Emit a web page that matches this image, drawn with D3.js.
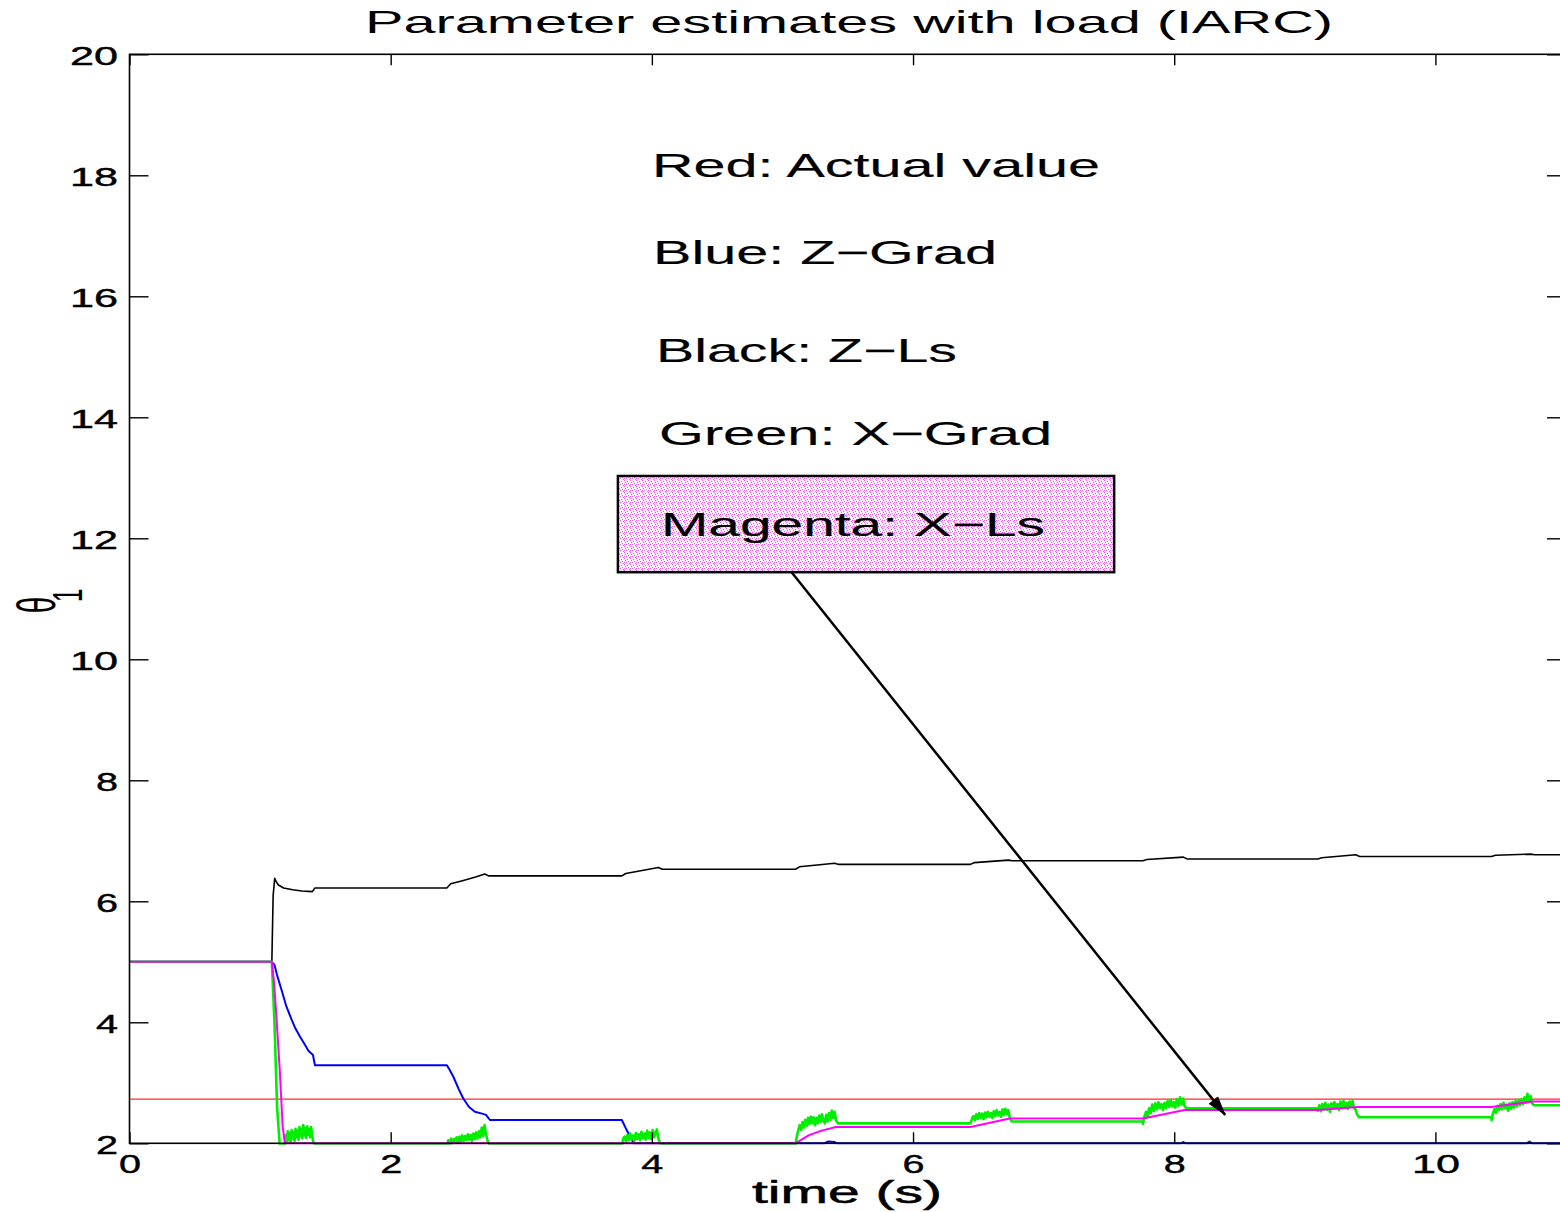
<!DOCTYPE html>
<html>
<head>
<meta charset="utf-8">
<script src="https://cdn.jsdelivr.net/npm/d3@7"></script>
<style>
  body { margin: 0; background: #fff; }
  svg { display: block; font-family: "Liberation Sans", Arial, Helvetica, sans-serif; }
</style>
</head>
<body>
<svg id="chart" width="1560" height="1212"></svg>
<script>
// ---- tick values ----
const xTicks = [0, 2, 4, 6, 8, 10];
const yTicks = [2, 4, 6, 8, 10, 12, 14, 16, 18, 20];

// ---- Red: actual parameter value ----
const actualT = [0, 11];
const actualV = [2.73, 2.73];

// ---- Black: Z-Ls estimate ----
const zlsT = [0, 1.09, 1.10, 1.112, 1.122, 1.14, 1.18, 1.25, 1.32, 1.40, 1.42,
  2.43, 2.46, 2.55, 2.65, 2.72, 2.75, 3.77, 3.80, 4.05, 4.08, 5.10, 5.13, 5.40, 5.43,
  6.44, 6.47, 6.73, 6.76, 7.76, 7.79, 8.07, 8.10, 9.10, 9.13, 9.39, 9.42,
  10.43, 10.46, 10.73, 10.76, 11];
const zlsV = [5, 5, 6.10, 6.38, 6.33, 6.27, 6.22, 6.19, 6.17, 6.16, 6.22,
  6.22, 6.29, 6.34, 6.40, 6.45, 6.42, 6.42, 6.46, 6.56, 6.53, 6.53, 6.57, 6.63, 6.61,
  6.61, 6.64, 6.68, 6.67, 6.67, 6.69, 6.73, 6.70, 6.70, 6.72, 6.77, 6.74,
  6.74, 6.76, 6.78, 6.77, 6.77];

// ---- Blue: Z-Grad estimate ----
const zgradT = [0, 1.09, 1.11, 1.13, 1.165, 1.20, 1.242, 1.27, 1.306, 1.34, 1.37, 1.405, 1.42,
  2.43, 2.45, 2.48, 2.52, 2.556, 2.60, 2.645, 2.70, 2.73, 2.76, 3.77, 3.80, 3.86,
  5.32, 5.35, 5.40, 5.42, 8.05, 8.07, 8.09, 10.70, 10.72, 10.74, 11];
const zgradV = [5, 5, 4.95, 4.78, 4.53, 4.27, 4.04, 3.90, 3.76, 3.64, 3.53, 3.46, 3.29,
  3.29, 3.22, 3.10, 2.90, 2.74, 2.60, 2.52, 2.49, 2.47, 2.385, 2.385, 2.25, 2.0,
  2.0, 2.03, 2.02, 2.0, 2.0, 2.02, 2.0, 2.0, 2.03, 2.0, 2.0];

// ---- Magenta: X-Ls estimate ----
const xlsT = [0, 1.09, 1.105, 1.12, 1.135, 1.152, 1.173, 1.19, 5.10, 5.20, 5.30, 5.41,
  6.44, 6.74, 7.76, 8.08, 9.10, 9.40, 10.43, 10.74, 11];
const xlsV = [5, 5, 4.70, 4.26, 3.75, 3.16, 2.27, 2.0, 2.0, 2.13, 2.21, 2.27,
  2.27, 2.41, 2.41, 2.55, 2.55, 2.60, 2.60, 2.69, 2.69];

// ---- Green: X-Grad estimate (initial drop, then adaptation bursts and hold levels) ----
const xgradStartT = [0, 1.09, 1.11, 1.13, 1.15];
const xgradStartV = [5, 5, 4.0, 2.6, 1.98];
const burstStart = [1.19, 2.43, 3.77, 5.10, 6.44, 7.76, 9.10, 10.43];
const burstEnd   = [1.405, 2.74, 4.06, 5.41, 6.74, 8.08, 9.40, 10.74];
const holdLevel  = [1.98, 1.98, 1.98, 2.33, 2.36, 2.58, 2.43, 2.63];
const burstValues = [
  [1.98, 2.14, 2.03, 2.20, 2.05, 2.17, 2.01, 2.22, 2.08, 2.18, 2.04, 2.24, 2.10, 2.21, 2.06,
   2.27, 2.12, 2.23, 2.08, 2.30, 2.13, 2.25, 2.09, 2.28, 2.14, 2.24, 2.10, 2.27, 2.16, 2.04],
  [1.97, 2.05, 1.99, 2.08, 2.00, 2.07, 2.01, 2.10, 2.02, 2.11, 2.03, 2.13, 2.04, 2.12, 2.05,
   2.15, 2.06, 2.14, 2.04, 2.16, 2.07, 2.18, 2.08, 2.20, 2.10, 2.26, 2.12, 2.30, 2.15, 2.06],
  [1.97, 2.08, 2.11, 2.02, 2.14, 2.05, 2.16, 2.06, 2.13, 2.04, 2.17, 2.07, 2.15, 2.05,
   2.19, 2.08, 2.16, 2.06, 2.21, 2.09, 2.18, 2.07, 2.22, 2.10, 2.17, 2.23, 2.08, 2.02],
  [1.98, 2.12, 2.22, 2.30, 2.22, 2.35, 2.26, 2.39, 2.29, 2.42, 2.32, 2.44, 2.33, 2.43, 2.30,
   2.42, 2.33, 2.46, 2.35, 2.48, 2.37, 2.33, 2.47, 2.36, 2.50, 2.39, 2.54, 2.42, 2.52, 2.38],
  [2.33, 2.40, 2.45, 2.38, 2.48, 2.40, 2.50, 2.42, 2.49, 2.40, 2.51, 2.43, 2.52, 2.44,
   2.50, 2.42, 2.53, 2.45, 2.55, 2.46, 2.52, 2.44, 2.56, 2.47, 2.57, 2.48, 2.55, 2.43],
  [2.32, 2.44, 2.52, 2.44, 2.58, 2.50, 2.64, 2.53, 2.66, 2.56, 2.68, 2.58, 2.65, 2.55,
   2.67, 2.58, 2.70, 2.60, 2.72, 2.61, 2.68, 2.59, 2.73, 2.62, 2.76, 2.64, 2.74, 2.61],
  [2.54, 2.63, 2.53, 2.65, 2.56, 2.67, 2.55, 2.64, 2.52, 2.66, 2.57, 2.68, 2.58, 2.65,
   2.55, 2.69, 2.59, 2.70, 2.60, 2.67, 2.57, 2.69, 2.61, 2.70, 2.58, 2.56, 2.48],
  [2.38, 2.50, 2.57, 2.50, 2.62, 2.55, 2.65, 2.56, 2.67, 2.58, 2.64, 2.54, 2.66, 2.57,
   2.68, 2.59, 2.70, 2.61, 2.72, 2.63, 2.73, 2.65, 2.76, 2.67, 2.82, 2.70, 2.78, 2.66]
];

// ---- text ----
const titleText = "Parameter estimates with load (IARC)";
const xLabelText = "time (s)";
const legendLabels = ["Red: Actual value", "Blue: Z\u2212Grad", "Black: Z\u2212Ls",
  "Green: X\u2212Grad", "Magenta: X\u2212Ls"];

// ---- scales ----
const svg = d3.select("#chart");
const x = d3.scaleLinear().domain([0, 11]).range([129.5, 1566]);
const y = d3.scaleLinear().domain([2, 20]).range([1143.3, 54.3]);

const defs = svg.append("defs");
defs.append("clipPath").attr("id", "plotClip")
  .append("rect")
  .attr("x", x(0)).attr("y", y(20))
  .attr("width", x(11) - x(0)).attr("height", y(2) - y(20) + 1.5);

// speckled pink fill for the callout box
const pat = defs.append("pattern").attr("id", "speckle")
  .attr("patternUnits", "userSpaceOnUse").attr("width", 6).attr("height", 6);
pat.append("rect").attr("width", 6).attr("height", 6).attr("fill", "#fdf0fd");
[[0,0],[3,1],[1,2],[4,3],[2,4],[5,5],[0,4]].forEach(([px, py]) =>
  pat.append("rect").attr("x", px).attr("y", py).attr("width", 1).attr("height", 1)
    .attr("fill", "#ee55ee"));

// arrow head
defs.append("marker").attr("id", "arrowHead")
  .attr("markerUnits", "userSpaceOnUse")
  .attr("viewBox", "0 -7 20 14")
  .attr("refX", 19).attr("refY", 0)
  .attr("markerWidth", 20).attr("markerHeight", 14)
  .attr("orient", "auto")
  .append("path").attr("d", "M0,-6L20,0L0,6Z").attr("fill", "#000");

// ---- build green series ----
const xgrad = d3.zip(xgradStartT, xgradStartV);
burstValues.forEach((vals, i) => {
  const n = vals.length;
  vals.forEach((v, j) => {
    const t = burstStart[i] + (burstEnd[i] - burstStart[i]) * j / (n - 1);
    xgrad.push([t, v]);
  });
  xgrad.push([burstEnd[i] + 0.015, holdLevel[i]]);
  const nextT = i + 1 < burstStart.length ? burstStart[i + 1] : 11;
  xgrad.push([nextT, holdLevel[i]]);
});

// ---- lines ----
const line = d3.line().x(d => x(d[0])).y(d => y(d[1]));
const plot = svg.append("g").attr("clip-path", "url(#plotClip)");

const series = [
  { data: d3.zip(actualT, actualV), color: "#ff2a2a", width: 1.3 },
  { data: d3.zip(zgradT, zgradV), color: "#0000ff", width: 2 },
  { data: d3.zip(zlsT, zlsV), color: "#000000", width: 1.6 },
  { data: xgrad, color: "#00ee00", width: 2.6 },
  { data: d3.zip(xlsT, xlsV), color: "#ff00ff", width: 2 }
];
series.forEach(s => {
  plot.append("path").datum(s.data)
    .attr("d", line)
    .attr("fill", "none")
    .attr("stroke", s.color)
    .attr("stroke-width", s.width)
    .attr("stroke-linejoin", "round");
});

// ---- axes (ticks point inward) ----
const tickFont = 25;
function styleTicks(g) {
  g.select(".domain").remove();
  g.selectAll(".tick line").attr("stroke", "#000").attr("stroke-width", 1.4);
}
const labelLen = s => s.length > 1 ? 48 : 22;

const gBottom = svg.append("g").attr("transform", `translate(0,${y(2)})`)
  .call(d3.axisBottom(x).tickValues(xTicks).tickSize(-11).tickFormat(d3.format("d")));
styleTicks(gBottom);
gBottom.selectAll(".tick text")
  .attr("fill", "#000").attr("font-size", tickFont)
  .attr("stroke", "#000").attr("stroke-width", 0.4)
  .attr("dy", null).attr("y", 30)
  .attr("text-anchor", "start")
  .each(function () {
    const s = d3.select(this).text();
    const L = labelLen(s);
    d3.select(this).attr("x", -L / 2).attr("textLength", L).attr("lengthAdjust", "spacingAndGlyphs");
  });

const gTop = svg.append("g").attr("transform", `translate(0,${y(20)})`)
  .call(d3.axisTop(x).tickValues(xTicks).tickSize(-11).tickFormat(""));
styleTicks(gTop);

const gLeft = svg.append("g").attr("transform", `translate(${x(0)},0)`)
  .call(d3.axisLeft(y).tickValues(yTicks).tickSize(-19).tickFormat(d3.format("d")));
styleTicks(gLeft);
gLeft.selectAll(".tick text")
  .attr("fill", "#000").attr("font-size", tickFont)
  .attr("stroke", "#000").attr("stroke-width", 0.4)
  .attr("dy", null).attr("y", 10.5)
  .attr("text-anchor", "start")
  .each(function () {
    const s = d3.select(this).text();
    const L = labelLen(s);
    d3.select(this).attr("x", -11.5 - L).attr("textLength", L).attr("lengthAdjust", "spacingAndGlyphs");
  });

const gRight = svg.append("g").attr("transform", `translate(${x(11)},0)`)
  .call(d3.axisRight(y).tickValues(yTicks).tickSize(-19).tickFormat(""));
styleTicks(gRight);

// axes box
svg.append("rect")
  .attr("x", x(0)).attr("y", y(20))
  .attr("width", x(11) - x(0)).attr("height", y(2) - y(20))
  .attr("fill", "none").attr("stroke", "#000").attr("stroke-width", 1.6);

// ---- title and axis labels ----
svg.append("text")
  .attr("x", 365).attr("y", 33)
  .attr("font-size", 32).attr("fill", "#000")
  .attr("textLength", 968).attr("lengthAdjust", "spacingAndGlyphs")
  .text(titleText);

svg.append("text")
  .attr("x", 752).attr("y", 1203)
  .attr("font-size", 31).attr("fill", "#000")
  .attr("stroke", "#000").attr("stroke-width", 0.5)
  .attr("textLength", 190).attr("lengthAdjust", "spacingAndGlyphs")
  .text(xLabelText);

const yLab = svg.append("g").attr("transform", "translate(55,605) scale(1.8,1) rotate(-90)");
yLab.append("text").attr("x", 0).attr("y", 0)
  .attr("text-anchor", "middle").attr("font-size", 30).attr("fill", "#000")
  .text("\u03b8");
yLab.append("text").attr("x", 3).attr("y", 15)
  .attr("font-size", 24).attr("fill", "#000")
  .text("1");

// ---- legend text block ----
const legendX = [652, 653, 656, 659, 661];
const legendY = [177, 264, 362, 445, 536];
const legendLen = [448, 344, 301, 393, 384];

// callout box around the last entry, with arrow to the X-Ls curve
const boxT = [3.74, 7.54];
const boxV = [13.03, 11.44];
svg.append("rect")
  .attr("x", x(boxT[0])).attr("y", y(boxV[0]))
  .attr("width", x(boxT[1]) - x(boxT[0])).attr("height", y(boxV[1]) - y(boxV[0]))
  .attr("fill", "url(#speckle)").attr("stroke", "#000").attr("stroke-width", 2.5);

const arrowFrom = [5.07, 11.44];
const arrowTo = [8.39, 2.47];
svg.append("line")
  .attr("x1", x(arrowFrom[0])).attr("y1", y(arrowFrom[1]))
  .attr("x2", x(arrowTo[0])).attr("y2", y(arrowTo[1]))
  .attr("stroke", "#000").attr("stroke-width", 2.5)
  .attr("marker-end", "url(#arrowHead)");

legendLabels.forEach((s, i) => {
  svg.append("text")
    .attr("x", legendX[i]).attr("y", legendY[i])
    .attr("font-size", 33).attr("fill", "#000")
    .attr("stroke", "#000").attr("stroke-width", 0.15)
    .attr("textLength", legendLen[i]).attr("lengthAdjust", "spacingAndGlyphs")
    .text(s);
});
</script>
</body>
</html>
